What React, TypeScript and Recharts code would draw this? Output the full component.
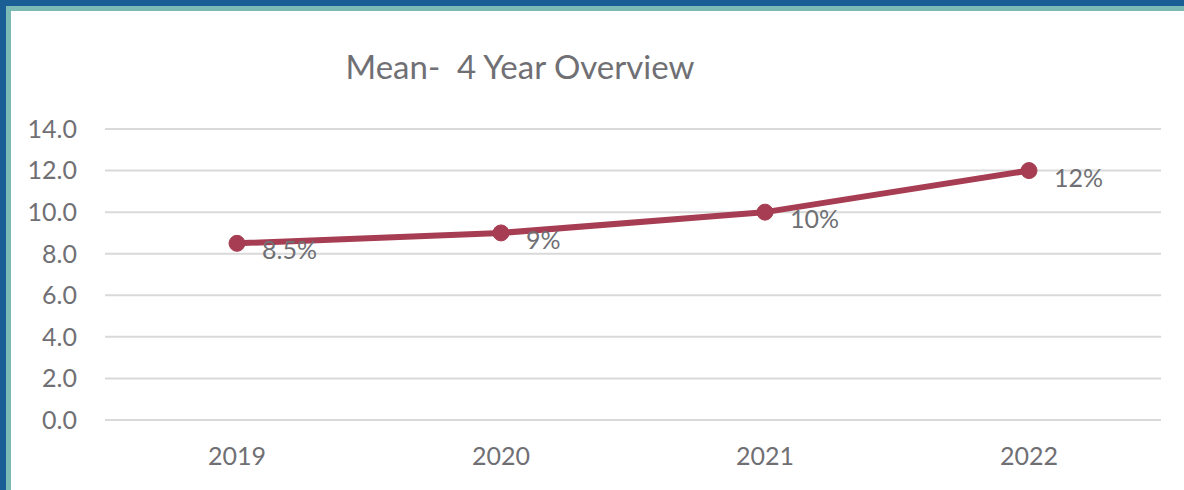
import React from "react";
import {LineChart, Line, XAxis, YAxis, CartesianGrid, LabelList} from "recharts";

const years = ["2019", "2020", "2021", "2022"];
const meanValues = [8.5, 9, 10, 12];
const meanLabels = ["8.5%", "9%", "10%", "12%"];
const yTicks = [0, 2, 4, 6, 8, 10, 12, 14];

const data = years.map((year, i) => ({
  year,
  mean: meanValues[i],
  label: meanLabels[i],
}));

const FONT = "Lato, 'Open Sans', sans-serif";
const TEXT = "#707074";
const LINE = "#a63d52";

// value label sits right of the marker and a little below it
function PointLabel(props: any) {
  const {x, y, value} = props;
  return (
    <text
      x={x + 25}
      y={y + 6}
      fill={TEXT}
      fontFamily={FONT}
      fontSize={25}
      dominantBaseline="central"
    >
      {value}
    </text>
  );
}

export default function App() {
  return (
    <div
      style={{
        position: "fixed",
        left: 0,
        top: 0,
        width: 1184,
        height: 490,
        background: "#fff",
        overflow: "hidden",
      }}
    >
      <div style={{position: "absolute", left: 0, top: 0, width: 1184, height: 6, background: "#1a5e96"}} />
      <div style={{position: "absolute", left: 0, top: 0, width: 6, height: 490, background: "#1a5e96"}} />
      <div style={{position: "absolute", left: 6, top: 6, width: 1178, height: 5, background: "#7bbab5"}} />
      <div style={{position: "absolute", left: 6, top: 6, width: 5, height: 484, background: "#7bbab5"}} />
      <div
        style={{
          position: "absolute",
          left: 270,
          width: 500,
          top: 46,
          textAlign: "center",
          fontFamily: FONT,
          fontSize: 33,
          color: TEXT,
          whiteSpace: "pre",
          lineHeight: "40px",
        }}
      >
        {"Mean-  4 Year Overview"}
      </div>
      <div style={{position: "absolute", left: 0, top: 0}}>
        <LineChart
          width={1184}
          height={490}
          data={data}
          margin={{top: 129, right: 23, left: 0, bottom: 0}}
        >
          <CartesianGrid stroke="#d9d9d9" strokeWidth={2} vertical={false} />
          <XAxis
            dataKey="year"
            height={70}
            padding={{left: 132, right: 132}}
            axisLine={false}
            tickLine={false}
            tickMargin={21}
            tick={{fontFamily: FONT, fontSize: 25, fill: TEXT}}
          />
          <YAxis
            width={105}
            domain={[0, 14]}
            ticks={yTicks}
            axisLine={false}
            tickLine={false}
            tickMargin={22}
            tickFormatter={(v: number) => v.toFixed(1)}
            tick={{fontFamily: FONT, fontSize: 25, fill: TEXT}}
          />
          <Line
            type="linear"
            dataKey="mean"
            stroke={LINE}
            strokeWidth={6}
            dot={{r: 8, fill: LINE, stroke: LINE, strokeWidth: 1}}
            isAnimationActive={false}
          >
            <LabelList dataKey="label" content={<PointLabel />} />
          </Line>
        </LineChart>
      </div>
    </div>
  );
}
